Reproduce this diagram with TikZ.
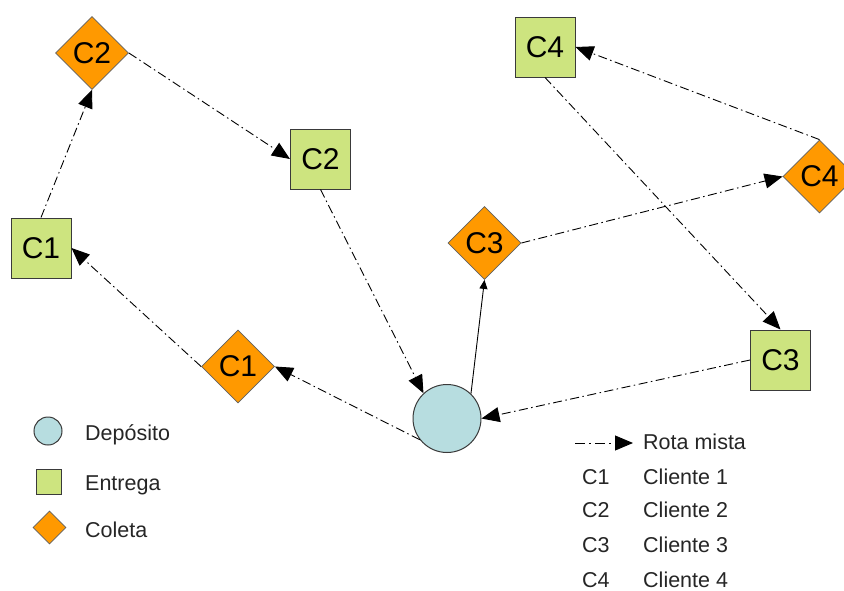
\documentclass[tikz,border=0pt]{standalone}
\usepackage{fontspec}
\setmainfont{Liberation Sans}
\usetikzlibrary{shapes.geometric,arrows.meta}
\definecolor{delivgreen}{HTML}{CDE47F}
\definecolor{pickorange}{HTML}{FF9900}
\definecolor{depotblue}{HTML}{B7DDE0}
\definecolor{edgegray}{HTML}{3A3A3A}
\tikzset{
  sqnode/.style={rectangle, draw=edgegray, line width=1pt, fill=delivgreen,
    minimum size=60pt, inner sep=0pt, font=\fontsize{30}{36}\selectfont},
  dmnode/.style={diamond, draw=edgegray!80, line width=0.8pt, fill=pickorange,
    minimum width=73pt, minimum height=73pt, inner sep=0pt, font=\fontsize{30}{36}\selectfont},
  depotnode/.style={circle, draw=edgegray, line width=1pt, fill=depotblue,
    minimum size=68pt, inner sep=0pt},
  route/.style={line width=0.9pt, dash pattern=on 9pt off 3.5pt on 1.5pt off 3.5pt,
    -{Triangle[length=18pt,width=15pt]}},
  direct/.style={line width=0.9pt, -{Triangle[length=9pt,width=8pt]}},
  legtext/.style={anchor=base west, inner sep=0pt, text=black!85, font=\fontsize{21.5}{26}\selectfont},
}
\begin{document}
\begin{tikzpicture}[x=1pt,y=-1pt]
\useasboundingbox (0,0) rectangle (844,590);
\fill[white] (0,0) rectangle (844,590);

% customers: deliveries (squares) and pickups (diamonds)
\node[dmnode] (c2d) at (92,53) {C2};
\node[sqnode] (c2s) at (320.5,159) {C2};
\node[sqnode] (c1s) at (41,248) {C1};
\node[dmnode] (c1d) at (238,366.5) {C1};
\node[dmnode] (c3d) at (484.5,243) {C3};
\node[sqnode] (c4s) at (545,47) {C4};
\node[dmnode] (c4d) at (819.5,176.5) {C4};
\node[sqnode] (c3s) at (780.5,360) {C3};

% depot
\node[depotnode] (dep) at (447,418.5) {};

% mixed route
\draw[route] (dep.218) -- (c1d.east);
\draw[route] (c1d.west) -- (c1s.east);
\draw[route] (c1s.north) -- (c2d.south);
\draw[route] (c2d.east) -- (c2s.west);
\draw[route] (c2s.south) -- (dep.133);
\draw[direct] (dep.46) -- (c3d.south);
\draw[route] (c3d.east) -- (c4d.west);
\draw[route] (c4d.north) -- (c4s.east);
\draw[route] (c4s.south) -- (c3s.north);
\draw[route] (c3s.west) -- (dep.east);

% legend: node types
\node[circle, draw=edgegray, line width=1pt, fill=depotblue, minimum size=28pt, inner sep=0pt] (lgdep) at (48,431) {};
\node[rectangle, draw=edgegray, line width=1pt, fill=delivgreen, minimum size=25pt, inner sep=0pt] (lgsq) at (49,481.5) {};
\node[diamond, draw=edgegray!80, line width=0.8pt, fill=pickorange, minimum width=33pt, minimum height=33pt, inner sep=0pt] (lgdm) at (49.5,527.5) {};
\node[legtext] (tdep) at (85,440) {Depósito};
\node[legtext] (tsq) at (85,490) {Entrega};
\node[legtext] (tdm) at (85,537) {Coleta};

% legend: route and customer codes
\coordinate (lgA) at (575,443);
\coordinate (lgB) at (633,443);
\draw[route, dash pattern=on 10pt off 4pt on 2pt off 4pt] (lgA) -- (lgB);
\node[legtext] (trota) at (643,449) {Rota mista};
\node[legtext] (k1) at (582,484) {C1};
\node[legtext] (v1) at (643,484) {Cliente 1};
\node[legtext] (k2) at (582,517) {C2};
\node[legtext] (v2) at (643,517) {Cliente 2};
\node[legtext] (k3) at (582,552) {C3};
\node[legtext] (v3) at (643,552) {Cliente 3};
\node[legtext] (k4) at (582,587) {C4};
\node[legtext] (v4) at (643,587) {Cliente 4};
\end{tikzpicture}
\end{document}
